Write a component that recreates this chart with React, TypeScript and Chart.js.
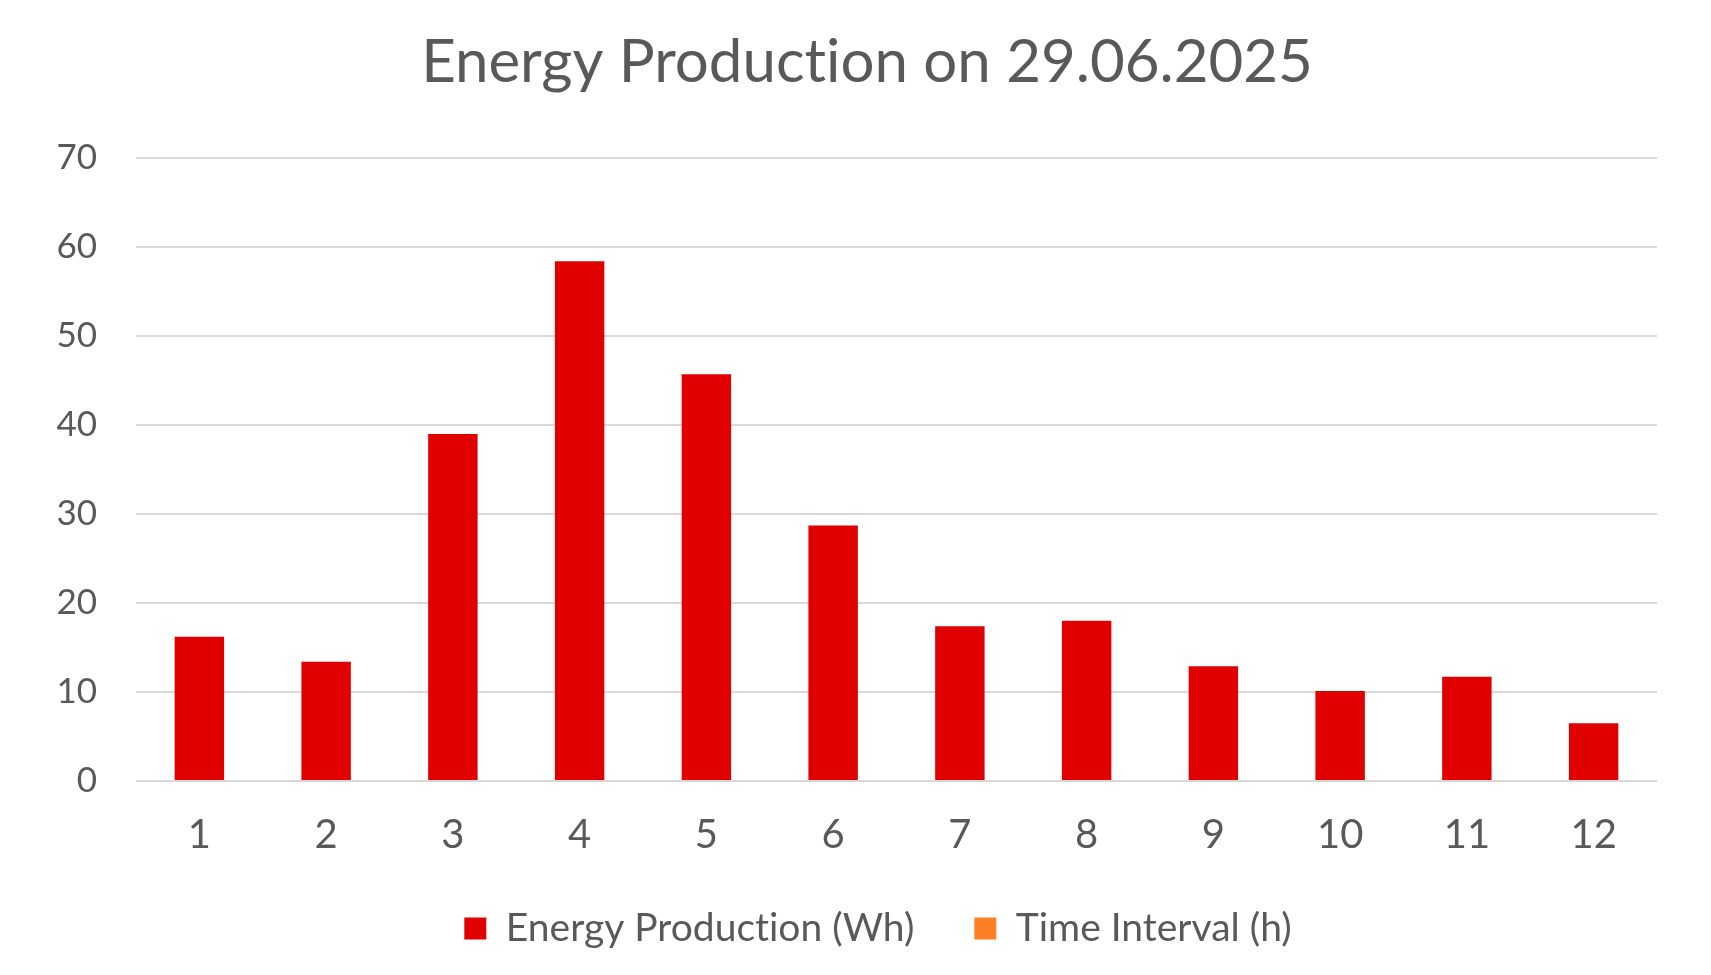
import React, { useEffect, useRef } from "react";
import { Chart, registerables } from "chart.js";

Chart.register(...registerables);

const categories = ["1", "2", "3", "4", "5", "6", "7", "8", "9", "10", "11", "12"];
const energyProduction = [16.2, 13.4, 39.0, 58.4, 45.7, 28.7, 17.4, 18.0, 12.9, 10.1, 11.7, 6.5];
const timeInterval: (number | null)[] = [];
const titleText = "Energy Production on 29.06.2025";
const seriesNames = ["Energy Production (Wh)", "Time Interval (h)"];

const TEXT = "#595959";

const noLigatures = {
  id: "noLigatures",
  beforeLayout(chart: any) {
    (chart.ctx as any).textRendering = "optimizeSpeed";
  },
  afterLayout(chart: any) {
    const t = chart.titleBlock;
    if (t) {
      t.left += 11;
      t.right += 11;
    }
    const l = chart.legend;
    if (l) {
      l.left += 22;
      l.right += 22;
    }
  },
  beforeDraw(chart: any) {
    (chart.ctx as any).textRendering = "optimizeSpeed";
  },
};

export default function App() {
  const ref = useRef<HTMLCanvasElement | null>(null);

  useEffect(() => {
    if (!ref.current) return;
    const chart = new Chart(ref.current, {
      type: "bar",
      plugins: [noLigatures],
      data: {
        labels: categories,
        datasets: [
          {
            label: seriesNames[0],
            data: energyProduction,
            backgroundColor: "#e00000",
            borderWidth: 0,
            grouped: false,
            barPercentage: 0.39,
            categoryPercentage: 1,
          },
          {
            label: seriesNames[1],
            data: timeInterval,
            backgroundColor: "#ff7f27",
            borderWidth: 0,
            grouped: false,
            barPercentage: 0.39,
            categoryPercentage: 1,
          },
        ],
      },
      options: {
        responsive: false,
        animation: false,
        layout: { padding: { left: 55, right: 54, top: 0, bottom: 17 } },
        plugins: {
          tooltip: { enabled: false },
          title: {
            display: true,
            text: titleText,
            color: TEXT,
            font: { family: "Lato", size: 60, weight: "normal", lineHeight: 1.2 },
            padding: { top: 26.5, bottom: 59.5 },
          },
          legend: {
            display: true,
            position: "bottom",
            labels: {
              color: TEXT,
              font: { family: "Lato", size: 39 },
              boxWidth: 22,
              boxHeight: 22,
              padding: 60,
            },
          },
        },
        scales: {
          x: {
            grid: { display: false, drawTicks: false },
            border: { display: false },
            ticks: {
              color: TEXT,
              font: { family: "Lato", size: 40, lineHeight: 1 },
              padding: 34,
            },
            afterFit: (scale: any) => {
              scale.height = 68;
            },
          },
          y: {
            min: 0,
            max: 70,
            grid: { color: "#d9d9d9", lineWidth: 2, drawTicks: false },
            border: { display: false },
            ticks: {
              stepSize: 10,
              color: TEXT,
              font: { family: "Lato", size: 35 },
              padding: 39,
            },
            afterFit: (scale: any) => {
              scale.width = 81;
            },
          },
        },
      },
    });
    return () => chart.destroy();
  }, []);

  return (
    <div style={{ position: "fixed", left: 0, top: 0, width: 1711, height: 975, background: "#fff" }}>
      <canvas ref={ref} width={1711} height={975} />
    </div>
  );
}
